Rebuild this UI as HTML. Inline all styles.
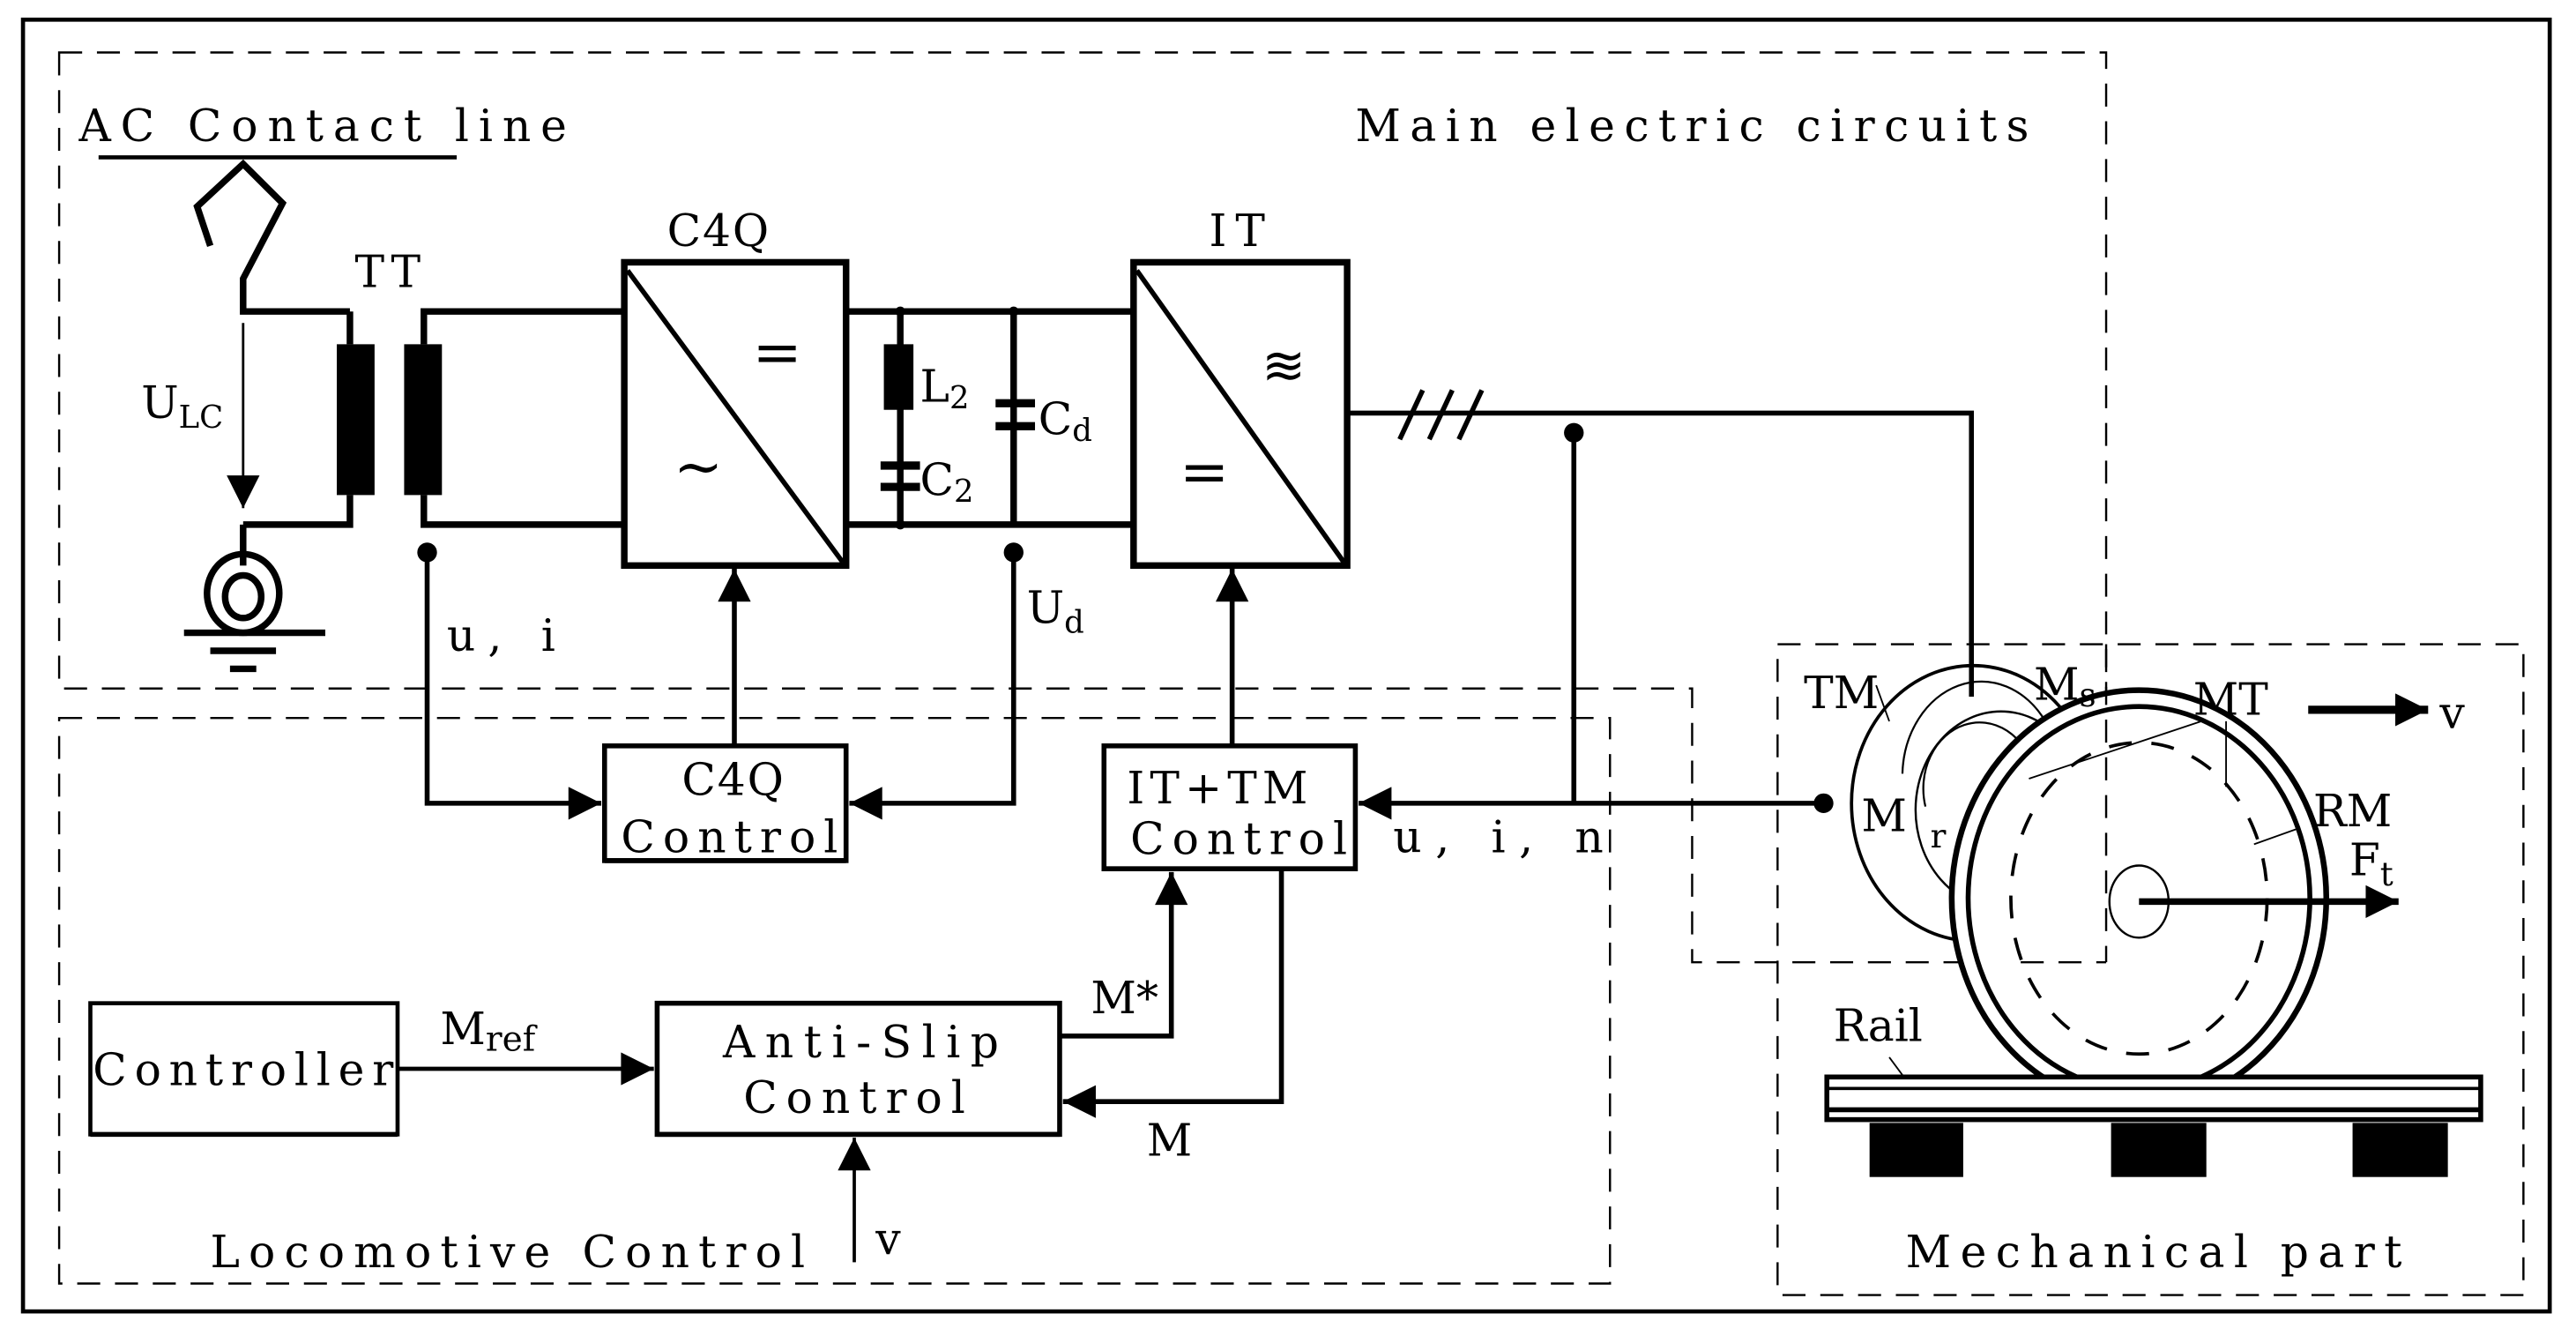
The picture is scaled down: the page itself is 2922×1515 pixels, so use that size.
<!DOCTYPE html>
<html><head><meta charset="utf-8"><style>
html,body{margin:0;padding:0;background:#fff}
svg{display:block}
text{font-family:"DejaVu Serif","Liberation Serif",serif;fill:#000}
</style></head><body>
<svg width="2922" height="1515" viewBox="0 0 1568 815" preserveAspectRatio="none" xmlns="http://www.w3.org/2000/svg">
<defs>
<marker id="ar2" viewBox="0 0 10 10" refX="10" refY="5" markerWidth="24" markerHeight="20" markerUnits="userSpaceOnUse" orient="auto"><path d="M0,0 L10,5 L0,10z"/></marker>
</defs>
<rect x="0" y="0" width="1568" height="815" fill="#fff"/>
<rect x="14" y="12" width="1538" height="788" fill="none" stroke="#000" stroke-width="2.5"/>
<g fill="none" stroke="#000" stroke-width="1.3" stroke-dasharray="14,9">
<path d="M36,32 H1282 V587 H1030 V420 H36 Z"/>
<rect x="36" y="438" width="944" height="345"/>
<rect x="1082" y="393" width="454" height="397"/>
</g>
<g font-size="27">
<text x="48" y="86" textLength="297" lengthAdjust="spacing">AC Contact line</text>
<text x="825" y="86" textLength="410" lengthAdjust="spacing">Main electric circuits</text>
<text x="128" y="773" textLength="362" lengthAdjust="spacing">Locomotive Control</text>
<text x="1160" y="773" textLength="302" lengthAdjust="spacing">Mechanical part</text>
</g>
<line x1="60" y1="96" x2="278" y2="96" stroke="#000" stroke-width="2.5"/>
<g fill="none" stroke="#000" stroke-width="4">
<polyline points="128,150 120,126 148,100 172,124 148,170 148,190 213,190"/>
<polyline points="148,320 213,320 213,302"/><line x1="213" y1="190" x2="213" y2="210"/>
<polyline points="258,210 258,190 380,190"/><polyline points="258,302 258,320 380,320"/>
<line x1="148" y1="320" x2="148" y2="345"/>
<rect x="380" y="160" width="135" height="185"/>
<line x1="382" y1="165" x2="513" y2="343" stroke-width="3"/>
<rect x="690" y="160" width="130" height="185"/>
<line x1="692" y1="165" x2="818" y2="343" stroke-width="3"/>
<line x1="515" y1="190" x2="690" y2="190"/><line x1="515" y1="320" x2="690" y2="320"/>
<line x1="548" y1="190" x2="548" y2="320"/><line x1="617" y1="190" x2="617" y2="320"/>
<polyline points="820,252 1200,252 1200,425" stroke-width="3"/>
<ellipse cx="148" cy="362" rx="22" ry="24"/><ellipse cx="148" cy="364" rx="11" ry="13"/>
</g>
<g stroke="#000" stroke-width="4">
<line x1="112" y1="386" x2="198" y2="386"/><line x1="128" y1="397" x2="168" y2="397"/><line x1="140" y1="408" x2="156" y2="408"/>
<line x1="536" y1="284" x2="560" y2="284" stroke-width="5"/><line x1="536" y1="297" x2="560" y2="297" stroke-width="5"/>
<line x1="606" y1="246" x2="630" y2="246" stroke-width="5"/><line x1="606" y1="260" x2="630" y2="260" stroke-width="5"/>
<line x1="852" y1="268" x2="866" y2="238" stroke-width="3"/><line x1="870" y1="268" x2="884" y2="238" stroke-width="3"/><line x1="888" y1="268" x2="902" y2="238" stroke-width="3"/>
</g>
<rect x="205" y="210" width="23" height="92"/><rect x="246" y="210" width="23" height="92"/>
<rect x="538" y="210" width="18" height="40"/>
<line x1="148" y1="197" x2="148" y2="310" stroke="#000" stroke-width="1.5" marker-end="url(#ar2)"/>
<g fill="#000"><circle cx="548" cy="190" r="3"/><circle cx="617" cy="190" r="3"/><circle cx="548" cy="320" r="3"/>
<circle cx="260" cy="337" r="6"/><circle cx="617" cy="337" r="6"/><circle cx="958" cy="264" r="6"/><circle cx="1110" cy="490" r="6"/></g>
<g font-size="27">
<text x="216" y="175" textLength="40" lengthAdjust="spacing">TT</text>
<text x="406" y="150" textLength="62" lengthAdjust="spacing">C4Q</text>
<text x="736" y="150" textLength="34" lengthAdjust="spacing">IT</text>
<text x="86" y="255">U<tspan font-size="19" dy="6">LC</tspan></text>
<text x="560" y="245">L<tspan font-size="19" dy="4">2</tspan></text>
<text x="560" y="302">C<tspan font-size="19" dy="4">2</tspan></text>
<text x="632" y="265">C<tspan font-size="19" dy="4">d</tspan></text>
<text x="625" y="380">U<tspan font-size="19" dy="6">d</tspan></text>
<text x="272" y="397" textLength="66" lengthAdjust="spacing">u, i</text>
<text x="848" y="520" textLength="128" lengthAdjust="spacing">u, i, n</text>
<text x="268" y="637">M<tspan font-size="21" dy="4">ref</tspan></text>
<text x="664" y="618">M*</text><text x="698" y="705">M</text><text x="533" y="765">v</text>
</g>
<text x="458" y="227" font-size="36">=</text><text x="718" y="300" font-size="36">=</text>
<text x="410" y="297" font-size="36">~</text><text x="768" y="234" font-size="32">≋</text>
<g fill="none" stroke="#000" stroke-width="3">
<line x1="447" y1="455" x2="447" y2="347" marker-end="url(#ar2)"/>
<polyline points="260,340 260,490 366,490" marker-end="url(#ar2)"/>
<polyline points="617,340 617,490 517,490" marker-end="url(#ar2)"/>
<line x1="750" y1="455" x2="750" y2="347" marker-end="url(#ar2)"/>
<line x1="958" y1="264" x2="958" y2="490"/>
<line x1="1110" y1="490" x2="827" y2="490" marker-end="url(#ar2)"/>
<polyline points="645,632 713,632 713,532" marker-end="url(#ar2)"/>
<polyline points="780,530 780,672 647,672" marker-end="url(#ar2)"/>
<line x1="242" y1="652" x2="398" y2="652" stroke-width="2.5" marker-end="url(#ar2)"/>
<line x1="520" y1="770" x2="520" y2="694" stroke-width="2" marker-end="url(#ar2)"/>
<rect x="368" y="455" width="147" height="70"/>
<rect x="672" y="455" width="153" height="75"/>
<rect x="400" y="612" width="245" height="80"/>
<rect x="55" y="612" width="187" height="80" stroke-width="2.5"/>
</g>
<g stroke="#000" stroke-width="3"><line x1="368" y1="525" x2="515" y2="525"/><line x1="672" y1="530" x2="825" y2="530"/><line x1="400" y1="692" x2="645" y2="692"/><line x1="55" y1="692" x2="242" y2="692"/></g>
<g font-size="27" text-anchor="middle">
<text x="446" y="485" textLength="62" lengthAdjust="spacing">C4Q</text><text x="444" y="520" textLength="132" lengthAdjust="spacing">Control</text>
<text x="741" y="490" textLength="110" lengthAdjust="spacing">IT+TM</text><text x="754" y="521" textLength="132" lengthAdjust="spacing">Control</text>
<text x="524" y="645" textLength="168" lengthAdjust="spacing">Anti-Slip</text><text x="520" y="679" textLength="135" lengthAdjust="spacing">Control</text>
<text x="148" y="662" textLength="183" lengthAdjust="spacing">Controller</text>
</g>
<g fill="none" stroke="#000">
<ellipse cx="1201" cy="490" rx="74" ry="84" stroke-width="2"/>
<ellipse cx="1218" cy="494" rx="52" ry="60" stroke-width="1.3"/>
<path d="M1158,472 A48,58 0 0 1 1245,440" stroke-width="1.2"/>
<path d="M1172,492 A34,40 0 0 1 1238,470" stroke-width="1.2"/>
<ellipse cx="1302" cy="548" rx="114" ry="127" stroke-width="3.5" fill="#fff"/>
<ellipse cx="1302" cy="548" rx="104" ry="117" stroke-width="3"/>
<ellipse cx="1302" cy="548" rx="78" ry="95" stroke-width="2" stroke-dasharray="14,12"/>
<ellipse cx="1302" cy="550" rx="18" ry="22" stroke-width="1.3"/>
<line x1="1150" y1="440" x2="1142" y2="418" stroke-width="1"/>
<line x1="1235" y1="475" x2="1340" y2="440" stroke-width="1"/>
<line x1="1355" y1="440" x2="1355" y2="480" stroke-width="1"/>
<line x1="1400" y1="505" x2="1372" y2="515" stroke-width="1"/>
<line x1="1150" y1="645" x2="1170" y2="672" stroke-width="1"/>
<line x1="1282" y1="393" x2="1282" y2="587" stroke-width="1.3" stroke-dasharray="14,9"/>
<line x1="1230" y1="587" x2="1282" y2="587" stroke-width="1.3" stroke-dasharray="14,9"/>
</g>
<line x1="1302" y1="550" x2="1460" y2="550" stroke="#000" stroke-width="4" marker-end="url(#ar2)"/>
<line x1="1405" y1="433" x2="1478" y2="433" stroke="#000" stroke-width="5" marker-end="url(#ar2)"/>
<rect x="1112" y="657" width="398" height="26" fill="#fff" stroke="#000" stroke-width="3"/>
<line x1="1112" y1="664" x2="1510" y2="664" stroke="#000" stroke-width="2"/>
<line x1="1112" y1="677" x2="1510" y2="677" stroke="#000" stroke-width="3"/>
<rect x="1138" y="685" width="57" height="33"/><rect x="1285" y="685" width="58" height="33"/><rect x="1432" y="685" width="58" height="33"/>
<g font-size="27">
<text x="1098" y="432">TM</text><text x="1238" y="427">M<tspan font-size="20" dy="4">s</tspan></text>
<text x="1335" y="436">MT</text><text x="1408" y="504">RM</text>
<text x="1430" y="534">F<tspan font-size="20" dy="6">t</tspan></text>
<text x="1133" y="507">M</text><text x="1175" y="517" font-size="20">r</text>
<text x="1485" y="444">v</text><text x="1116" y="635">Rail</text>
</g>
</svg>
</body></html>
